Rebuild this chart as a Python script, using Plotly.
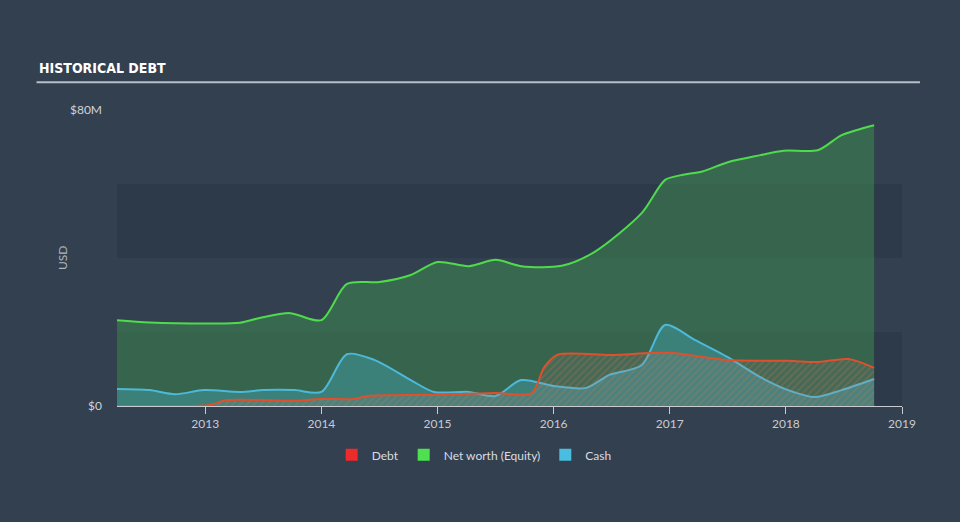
import plotly.graph_objects as go

# ---- data (USD millions, x in decimal years) ----
equity_x = [2012.24, 2012.52, 2013.04, 2013.30, 2013.47, 2013.73, 2014.00, 2014.22, 2014.50, 2014.77,
            2015.00, 2015.27, 2015.50, 2015.72, 2016.07, 2016.35, 2016.76, 2016.96, 2017.10,
            2017.28, 2017.50, 2017.78, 2017.98, 2018.28, 2018.48, 2018.76]
equity_y = [23.2, 22.6, 22.3, 22.5, 23.8, 25.1, 23.2, 33.0, 33.5, 35.4,
            38.9, 37.8, 39.5, 37.8, 37.9, 41.6, 52.2, 61.1, 62.4,
            63.4, 65.9, 67.8, 69.0, 69.2, 73.2, 75.9]

cash_x = [2012.24, 2012.52, 2012.74, 2012.99, 2013.30, 2013.50, 2013.77, 2014.00, 2014.22, 2014.46,
          2014.77, 2014.97, 2015.27, 2015.50, 2015.72, 2016.00, 2016.28, 2016.48, 2016.76,
          2016.96, 2017.22, 2017.50, 2017.78, 2018.02, 2018.25, 2018.48, 2018.76]
cash_y = [4.6, 4.3, 3.2, 4.3, 3.8, 4.3, 4.3, 3.8, 14.0, 12.4,
          7.0, 3.8, 3.8, 2.7, 7.0, 5.4, 4.9, 8.4, 11.1,
          21.9, 17.8, 13.2, 7.8, 4.3, 2.4, 4.3, 7.3]

debt_x = [2012.24, 2012.74, 2013.04, 2013.19, 2013.77, 2014.00, 2014.28, 2014.40, 2014.96, 2015.50,
          2015.81, 2015.92, 2016.03, 2016.50, 2016.83, 2017.03, 2017.50, 2018.02, 2018.28,
          2018.54, 2018.76]
debt_y = [0.0, 0.0, 0.3, 1.6, 1.4, 1.9, 1.9, 2.7, 3.0, 3.5,
          3.5, 10.5, 13.8, 13.8, 14.3, 14.3, 12.4, 12.2, 11.9,
          12.7, 10.3]

years = [2013, 2014, 2015, 2016, 2017, 2018, 2019]
y_ticks = [0, 80]
y_tick_labels = ["$0", "$80M"]

BG = "#334050"
fig = go.Figure()

fig.add_trace(go.Scatter(
    x=equity_x, y=equity_y, name="Net worth (Equity)", mode="lines",
    line=dict(color="#4fdc4c", width=2, shape="spline", smoothing=0.8),
    fill="tozeroy", fillcolor="rgba(67,160,80,0.42)", showlegend=False))
fig.add_trace(go.Scatter(
    x=cash_x, y=cash_y, name="Cash", mode="lines",
    line=dict(color="#4cb9da", width=2, shape="spline", smoothing=0.8),
    fill="tozeroy", fillcolor="rgba(70,170,190,0.40)", showlegend=False))
fig.add_trace(go.Scatter(
    x=debt_x, y=debt_y, name="Debt", mode="lines",
    line=dict(color="#e0502c", width=2, shape="spline", smoothing=0.8),
    fill="tozeroy", fillcolor="rgba(0,0,0,0)",
    fillpattern=dict(shape="/", fgcolor="rgba(225,110,80,0.55)", bgcolor="rgba(150,140,130,0.15)",
                     size=5, solidity=0.3),
    showlegend=False))

# legend entries as square markers
for nm, col in [("Debt", "#ee2a2a"), ("Net worth (Equity)", "#4fe04f"), ("Cash", "#4bbde0")]:
    fig.add_trace(go.Scatter(x=[None], y=[None], mode="markers", name=nm,
                             marker=dict(symbol="square", size=14, color=col)))

shapes = [
    dict(type="rect", xref="paper", yref="y", x0=0, x1=1, y0=0, y1=20,
         fillcolor="rgba(20,30,45,0.16)", line=dict(width=0), layer="below"),
    dict(type="rect", xref="paper", yref="y", x0=0, x1=1, y0=40, y1=60,
         fillcolor="rgba(20,30,45,0.16)", line=dict(width=0), layer="below"),
    dict(type="line", xref="paper", yref="paper", x0=-0.1025, x1=1.0229, y0=1.094, y1=1.094,
         line=dict(color="#b8bec6", width=2)),
]

fig.update_layout(
    width=960, height=522,
    paper_bgcolor=BG, plot_bgcolor=BG,
    margin=dict(l=117, r=58, t=110, b=116),
    font=dict(family="Lato, DejaVu Sans", color="#d0d4da", size=12),
    shapes=shapes,
    showlegend=True,
    legend=dict(orientation="h", x=0.455, y=-0.165, xanchor="center", yanchor="middle",
                font=dict(size=12, color="#d8dce2"), itemsizing="constant",
                bgcolor="rgba(0,0,0,0)", itemwidth=30, tracegroupgap=0),
    annotations=[
        dict(text="<b>HISTORICAL DEBT</b>", xref="paper", yref="paper", x=-0.1025, y=1.107,
             xanchor="left", yanchor="bottom", showarrow=False,
             font=dict(family="DejaVu Sans Condensed, Liberation Sans Narrow, DejaVu Sans", size=14, color="#ffffff")),
        dict(text="USD", xref="paper", yref="paper", x=-0.070, y=0.5, textangle=-90,
             xanchor="center", yanchor="middle",
             showarrow=False, font=dict(size=12, color="#aeb5be")),
    ],
    xaxis=dict(range=[2012.24, 2019.0], tickvals=years, ticktext=[str(v) for v in years],
               showgrid=False, zeroline=False, showline=True, linecolor="#c8ccd2", linewidth=1,
               ticks="outside", ticklen=7, tickcolor="#c8ccd2",
               tickfont=dict(size=12, color="#c8ccd2")),
    yaxis=dict(range=[0, 80], tickvals=y_ticks, ticktext=y_tick_labels, showgrid=False,
               zeroline=False, showline=False, ticks="", ticklabelstandoff=14,
               tickfont=dict(size=12, color="#d0d4da")),
)

fig.write_html("out.html")
